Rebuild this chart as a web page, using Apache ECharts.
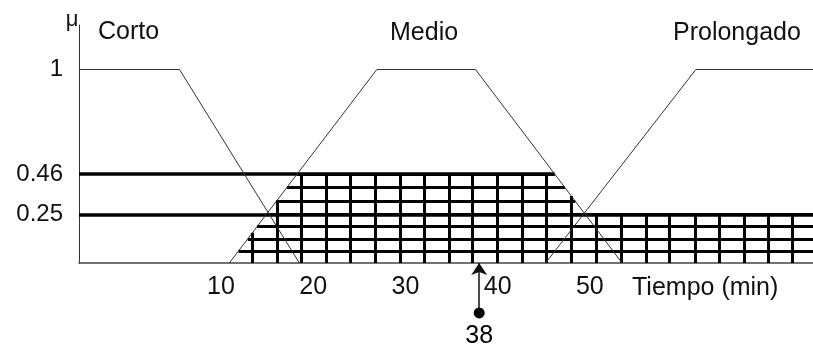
<!DOCTYPE html>
<html><head><meta charset="utf-8">
<script src="https://cdn.jsdelivr.net/npm/echarts@6/dist/echarts.min.js"></script>
<style>html,body{margin:0;padding:0;background:#fff}#c{width:813px;height:349px}</style>
</head><body><div id="c"></div>
<script>
// ---- data ----
const xTickLabels = [10, 20, 30, 40, 50];
const yTickLabels = [0.25, 0.46, 1];
const setNames = ['Corto', 'Medio', 'Prolongado'];
const cortoX = [-5.4, 5.5, 18.5];
const cortoY = [1, 1, 0];
const medioX = [10.9, 26.9, 37.6, 53.5];
const medioY = [0, 1, 1, 0];
const prolX = [45.2, 61.5, 74.2];
const prolY = [0, 1, 1];
const cutMedio = 0.46;
const cutProl = 0.25;
const inputValue = 38;
const hatchX = [13.4, 16.1, 18.7, 21.4, 24.0, 26.7, 29.4, 32.0, 34.7, 37.3, 40.0, 42.7, 45.3, 48.0, 50.7, 53.4, 56.1, 58.6, 61.4, 64.0, 66.7, 69.4, 72.0];
const hatchY = [0.0625, 0.125, 0.1875, 0.25, 0.32, 0.39, 0.46];
const X_MIN = -5.4, X_MAX = 74.2, Y_MAX = 1.23;

// ---- helpers ----
function mu(xs, ys, x) {
  if (x <= xs[0]) return ys[0];
  if (x >= xs[xs.length - 1]) return ys[ys.length - 1];
  for (let i = 0; i < xs.length - 1; i++) {
    if (x >= xs[i] && x <= xs[i + 1]) {
      const t = (x - xs[i]) / (xs[i + 1] - xs[i]);
      return ys[i] + t * (ys[i + 1] - ys[i]);
    }
  }
  return 0;
}
function topOf(x) {
  return Math.max(Math.min(mu(medioX, medioY, x), cutMedio), Math.min(mu(prolX, prolY, x), cutProl));
}
function pairs(xs, ys) { return xs.map((x, i) => [x, ys[i]]); }
function medioLeft(h) { return medioX[0] + (h - medioY[0]) / (medioY[1] - medioY[0]) * (medioX[1] - medioX[0]); }
function medioRight(h) { return medioX[2] + (medioY[2] - h) / (medioY[2] - medioY[3]) * (medioX[3] - medioX[2]); }

const hatch = [];
hatchX.forEach(x => {
  const t = topOf(x);
  if (t > 0) hatch.push({ coords: [[x, 0], [x, t]] });
});
hatchY.forEach(h => {
  const xl = medioLeft(h);
  const xr = h <= cutProl ? X_MAX : medioRight(h);
  hatch.push({ coords: [[xl, h], [xr, h]] });
});
const cuts = [
  { coords: [[X_MIN, cutMedio], [medioRight(cutMedio), cutMedio]] },
  { coords: [[X_MIN, cutProl], [X_MAX, cutProl]] }
];

const FONT = 'Liberation Sans';
const chart = echarts.init(document.getElementById('c'), null, { renderer: 'canvas' });
const memLine = { color: '#333', width: 1 };
chart.setOption({
  animation: false,
  backgroundColor: '#fff',
  grid: { left: 79, right: 0, top: 25, bottom: 86, containLabel: false },
  xAxis: {
    type: 'value', min: X_MIN, max: X_MAX,
    axisLine: { show: true, onZero: false, lineStyle: { color: '#444', width: 1.5 } },
    axisTick: { show: false },
    splitLine: { show: false },
    axisLabel: { customValues: xTickLabels, fontSize: 25, color: '#111', margin: 12, fontFamily: FONT }
  },
  yAxis: {
    type: 'value', min: 0, max: Y_MAX,
    axisLine: { show: true, onZero: false, lineStyle: { color: '#333', width: 1 } },
    axisTick: { show: false },
    splitLine: { show: false },
    axisLabel: { customValues: yTickLabels, fontSize: 24, color: '#111', margin: 16, fontFamily: FONT,
      formatter: v => String(v) }
  },
  graphic: [
    { type: 'text', x: 72, y: 20, style: { text: 'μ', font: '22px ' + FONT, fill: '#111', align: 'center', verticalAlign: 'middle' } },
    { type: 'text', x: 98, y: 32, style: { text: setNames[0], font: '25px ' + FONT, fill: '#111', align: 'left', verticalAlign: 'middle' } },
    { type: 'text', x: 390, y: 33, style: { text: setNames[1], font: '25px ' + FONT, fill: '#111', align: 'left', verticalAlign: 'middle' } },
    { type: 'text', x: 673, y: 33, style: { text: setNames[2], font: '25px ' + FONT, fill: '#111', align: 'left', verticalAlign: 'middle' } },
    { type: 'text', x: 632, y: 288, style: { text: 'Tiempo (min)', font: '25px ' + FONT, fill: '#111', align: 'left', verticalAlign: 'middle' } }
  ],
  series: [
    { name: setNames[0], type: 'line', data: pairs(cortoX, cortoY), symbol: 'none', lineStyle: memLine, silent: true },
    { name: setNames[1], type: 'line', data: pairs(medioX, medioY), symbol: 'none', lineStyle: memLine, silent: true },
    { name: setNames[2], type: 'line', data: pairs(prolX, prolY), symbol: 'none', lineStyle: memLine, silent: true },
    { type: 'lines', coordinateSystem: 'cartesian2d', data: hatch, lineStyle: { color: '#000', width: 3, opacity: 1 }, silent: true, z: 3 },
    { type: 'lines', coordinateSystem: 'cartesian2d', data: cuts, lineStyle: { color: '#000', width: 3.5, opacity: 1 }, silent: true, z: 3 },
    { type: 'lines', coordinateSystem: 'cartesian2d', clip: false,
      data: [{ coords: [[inputValue, -0.258], [inputValue, 0]] }],
      symbol: ['none', 'arrow'], symbolSize: [9, 12],
      lineStyle: { color: '#111', width: 1.5, opacity: 1 }, silent: true, z: 4 },
    { type: 'scatter', clip: false, data: [[inputValue, -0.258]], symbol: 'circle', symbolSize: 11,
      itemStyle: { color: '#000', opacity: 1 }, silent: true, z: 4,
      label: { show: true, position: 'bottom', distance: 5, formatter: String(inputValue), fontSize: 25, color: '#000', opacity: 1, fontFamily: FONT } }
  ]
});
</script></body></html>
